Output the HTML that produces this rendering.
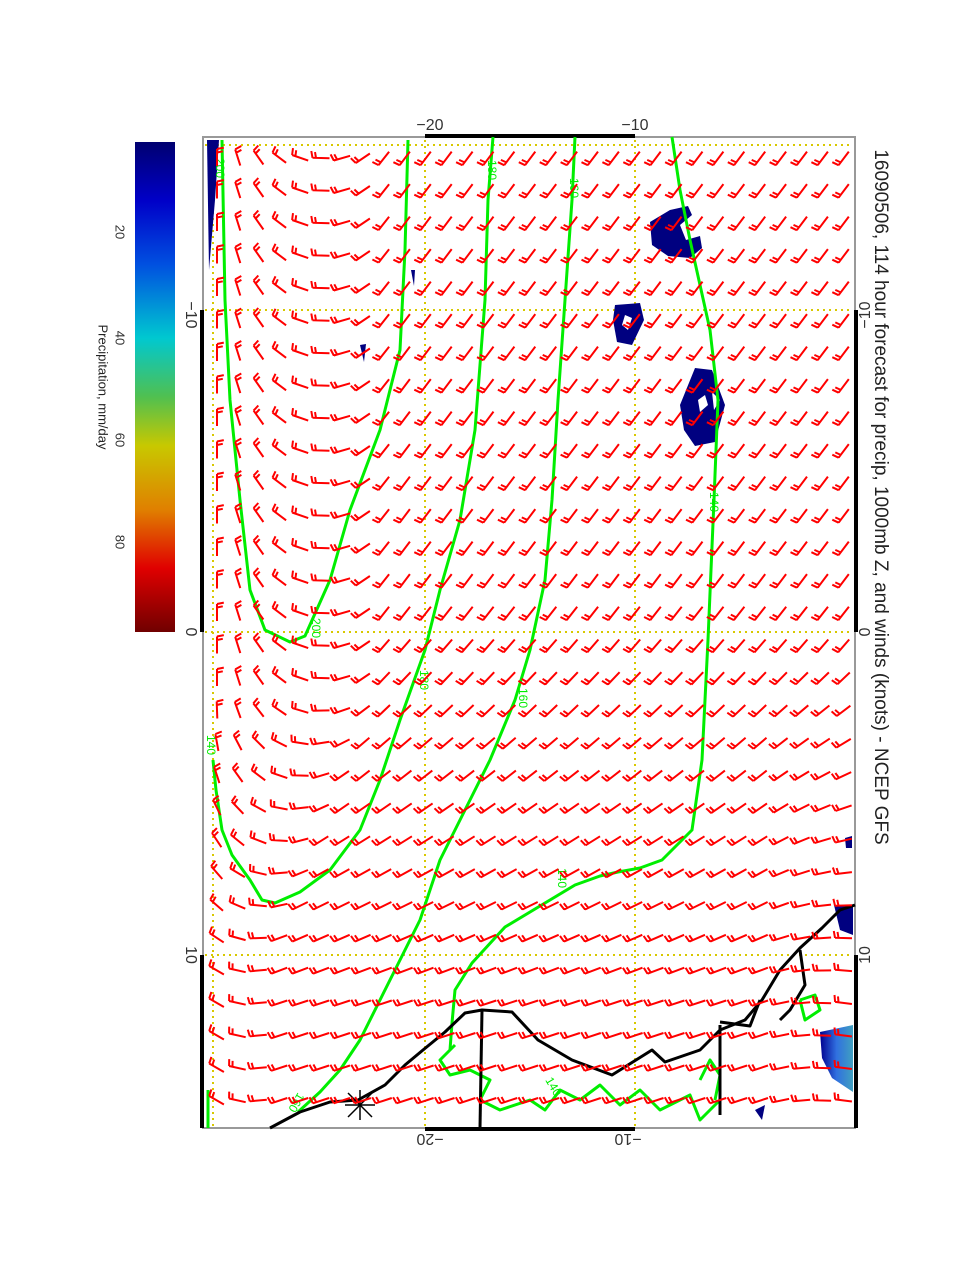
<!DOCTYPE html>
<html><head><meta charset="utf-8"><style>
html,body{margin:0;padding:0;background:#fff;}
body{width:978px;height:1265px;position:relative;overflow:hidden;font-family:"Liberation Sans",sans-serif;}
.t{position:absolute;white-space:nowrap;color:#333;}
</style></head><body>
<svg id="s" width="978" height="1265" xmlns="http://www.w3.org/2000/svg" style="position:absolute;left:0;top:0">
<defs>
<linearGradient id="cb" x1="0" y1="0" x2="0" y2="1">
<stop offset="0" stop-color="#000070"/>
<stop offset="0.12" stop-color="#0000c8"/>
<stop offset="0.25" stop-color="#0050e0"/>
<stop offset="0.40" stop-color="#00c8d0"/>
<stop offset="0.52" stop-color="#50c050"/>
<stop offset="0.62" stop-color="#c8c800"/>
<stop offset="0.75" stop-color="#e08000"/>
<stop offset="0.87" stop-color="#e00000"/>
<stop offset="1" stop-color="#700000"/>
</linearGradient>
<linearGradient id="pb" x1="0" y1="0" x2="1" y2="0">
<stop offset="0" stop-color="#000090"/><stop offset="0.5" stop-color="#3070e0"/><stop offset="1" stop-color="#40a0c0"/>
</linearGradient>
</defs>
<rect x="135" y="142" width="40" height="490" fill="url(#cb)"/>
<rect x="203" y="137" width="652" height="991" fill="none" stroke="#999" stroke-width="2"/>
<rect x="425" y="134" width="210" height="4" fill="#000"/>
<rect x="425" y="1127" width="210" height="4" fill="#000"/>
<rect x="200" y="310" width="4" height="322" fill="#000"/>
<rect x="200" y="955" width="4" height="173" fill="#000"/>
<rect x="854" y="310" width="4" height="322" fill="#000"/>
<rect x="854" y="955" width="4" height="173" fill="#000"/>
<g stroke="#d8c800" stroke-width="2" stroke-dasharray="2,4">
<line x1="425" y1="140" x2="425" y2="1126"/>
<line x1="635" y1="140" x2="635" y2="1126"/>
<line x1="213" y1="140" x2="213" y2="1126"/>
<line x1="205" y1="310" x2="853" y2="310"/>
<line x1="205" y1="632" x2="853" y2="632"/>
<line x1="205" y1="955" x2="853" y2="955"/>
<line x1="205" y1="145" x2="853" y2="145"/>
</g>
<g fill="#000080">
<polygon points="207,140 219,140 215,200 209,270"/>
<polygon points="650,222 670,210 688,206 692,215 680,225 686,240 700,236 702,248 690,258 668,256 652,245"/>
<polygon points="615,305 640,303 644,320 632,345 617,342 613,320"/>
<polygon points="695,368 712,370 725,405 715,442 695,446 684,430 680,405"/>
<polygon points="845,838 852,836 852,848 846,848"/>
<polygon points="834,905 853,905 853,935 840,930"/>
<polygon points="411,270 415,270 414,286"/>
<polygon points="360,345 366,344 364,362"/>
<polygon points="755,1110 765,1105 762,1120"/>
</g>
<polygon points="820,1032 853,1025 853,1092 832,1078 822,1058" fill="url(#pb)"/>
<g fill="#fff"><polygon points="625,315 632,318 628,330 622,325"/><polygon points="698,400 705,395 708,405 700,412"/><polygon points="712,392 720,400 714,410"/></g>
<g fill="none" stroke="#00ee00" stroke-width="3" stroke-linejoin="round">
<polyline points="672,137 680,190 690,240 710,330 718,400 714,500 708,640 702,760 692,830 662,860 640,868 618,872 600,876 575,885 545,903 505,927 472,963 455,990 452,1023 450,1050"/>
<polyline points="575,137 572,200 565,300 558,400 552,500 545,580 530,650 515,700 490,760 470,800 440,860 420,920 400,960 380,1000 360,1040 340,1070 320,1092 298,1112"/>
<polyline points="493,137 488,200 485,300 475,430 460,520 440,590 425,650 400,720 380,780 360,830 330,870 300,892 275,903 262,900 250,880 232,855 222,830 216,790 213,760"/>
<polyline points="222,140 225,300 230,400 240,500 250,590 265,630 290,642 305,636 330,580 350,510 380,430 400,350 405,250 408,140"/>
<polyline points="455,1045 440,1060 450,1075 470,1070 490,1080 480,1100 500,1110 530,1100 545,1110 560,1090 580,1100 600,1085 620,1105 640,1090 660,1110 690,1095 700,1120 720,1100"/>
<polyline points="700,1080 710,1060 720,1075 715,1100"/>
<polyline points="800,1000 815,995 820,1010 805,1020 800,1000"/>
<polyline points="208,1090 208,1128"/>
</g>
<g fill="#00ee00" font-family="Liberation Sans" font-size="12">
<text transform="translate(216,158) rotate(90)">200</text>
<text transform="translate(312,618) rotate(90)">200</text>
<text transform="translate(488,160) rotate(90)">180</text>
<text transform="translate(420,670) rotate(90)">180</text>
<text transform="translate(570,178) rotate(90)">160</text>
<text transform="translate(519,688) rotate(90)">160</text>
<text transform="translate(710,492) rotate(90)">140</text>
<text transform="translate(558,868) rotate(90)">140</text>
<text transform="translate(207,735) rotate(90)">140</text>
<text transform="translate(545,1080) rotate(60)">140</text>
<text transform="translate(298,1092) rotate(120)">160</text>
</g>
<g fill="none" stroke="#000" stroke-width="3" stroke-linejoin="round">
<polyline points="270,1128 300,1112 330,1102 358,1100 385,1085 405,1065 423,1050 445,1032 465,1013 482,1010 512,1012 538,1040 572,1060 612,1075 652,1050 665,1062 700,1050 720,1030 745,1020 762,1000 780,970 800,948 822,928 840,910 855,905"/>
<polyline points="482,1010 480,1128"/>
<polyline points="720,1025 720,1115"/>
<polyline points="720,1022 750,1026 760,1000"/>
<polyline points="800,950 805,985 790,1010 780,1020"/>
</g>
<g stroke="#000" stroke-width="1.5">
<line x1="345" y1="1105" x2="375" y2="1105"/><line x1="360" y1="1090" x2="360" y2="1120"/>
<line x1="348" y1="1093" x2="372" y2="1117"/><line x1="372" y1="1093" x2="348" y2="1117"/>
</g>
<g id="barbs" stroke="#ff0000" stroke-width="2" fill="none" stroke-linecap="butt"></g>
</svg>
<div class="t" style="left:880px;top:497px;font-size:19px;transform:translate(-50%,-50%) rotate(90deg);color:#222">16090506, 114 hour forecast for precip, 1000mb Z, and winds (knots) - NCEP GFS</div>
<div class="t" style="left:103px;top:387px;font-size:13px;transform:translate(-50%,-50%) rotate(90deg);color:#222">Precipitation, mm/day</div>
<div class="t" style="left:120px;top:232px;font-size:13px;transform:translate(-50%,-50%) rotate(90deg)">20</div>
<div class="t" style="left:120px;top:338px;font-size:13px;transform:translate(-50%,-50%) rotate(90deg)">40</div>
<div class="t" style="left:120px;top:440px;font-size:13px;transform:translate(-50%,-50%) rotate(90deg)">60</div>
<div class="t" style="left:120px;top:542px;font-size:13px;transform:translate(-50%,-50%) rotate(90deg)">80</div>
<div class="t" style="left:430px;top:126px;font-size:16px;transform:translate(-50%,-50%)">−20</div>
<div class="t" style="left:635px;top:126px;font-size:16px;transform:translate(-50%,-50%)">−10</div>
<div class="t" style="left:430px;top:1138px;font-size:16px;transform:translate(-50%,-50%) rotate(180deg)">−20</div>
<div class="t" style="left:628px;top:1138px;font-size:16px;transform:translate(-50%,-50%) rotate(180deg)">−10</div>
<div class="t" style="left:190px;top:315px;font-size:16px;transform:translate(-50%,-50%) rotate(90deg)">−10</div>
<div class="t" style="left:190px;top:632px;font-size:16px;transform:translate(-50%,-50%) rotate(90deg)">0</div>
<div class="t" style="left:190px;top:955px;font-size:16px;transform:translate(-50%,-50%) rotate(90deg)">10</div>
<div class="t" style="left:866px;top:315px;font-size:16px;transform:translate(-50%,-50%) rotate(-90deg)">−10</div>
<div class="t" style="left:866px;top:632px;font-size:16px;transform:translate(-50%,-50%) rotate(-90deg)">0</div>
<div class="t" style="left:866px;top:955px;font-size:16px;transform:translate(-50%,-50%) rotate(-90deg)">10</div>
<script>
(function(){
var g=document.getElementById('barbs');var out='';
function cl(v){return v<0?0:v>1?1:v;}
for(var r=0;r<30;r++){var y=158+32.5*r;if(y>1115)break;
 for(var c=0;c<31;c++){var x=217+20.9*c;if(x>848)break;
  var base=127+35*cl((y-600)/400);
  if(x>760)base+=25*cl((x-760)/80)*cl((y-650)/250);
  var shift=60*cl((y-700)/250);
  var gg=272-(x-215)*0.85-shift;
  var th=Math.max(base,gg);
  var a=th*Math.PI/180,dx=Math.cos(a),dy=Math.sin(a);
  var x0=x-dx*8,y0=y-dy*8,x1=x+dx*9,y1=y+dy*9;
  var rx=-dy,ry=dx;
  var bx=rx*0.97+dx*0.2,by=ry*0.97+dy*0.2;
  out+='M'+x0.toFixed(1)+' '+y0.toFixed(1)+'L'+x1.toFixed(1)+' '+y1.toFixed(1);
  out+='M'+x1.toFixed(1)+' '+y1.toFixed(1)+'l'+(bx*7).toFixed(1)+' '+(by*7).toFixed(1);
  var x2=x1-dx*3.5,y2=y1-dy*3.5;
  out+='M'+x2.toFixed(1)+' '+y2.toFixed(1)+'l'+(bx*6).toFixed(1)+' '+(by*6).toFixed(1);
 }}
var p=document.createElementNS('http://www.w3.org/2000/svg','path');
p.setAttribute('d',out);g.appendChild(p);
})();
</script>
</body></html>
